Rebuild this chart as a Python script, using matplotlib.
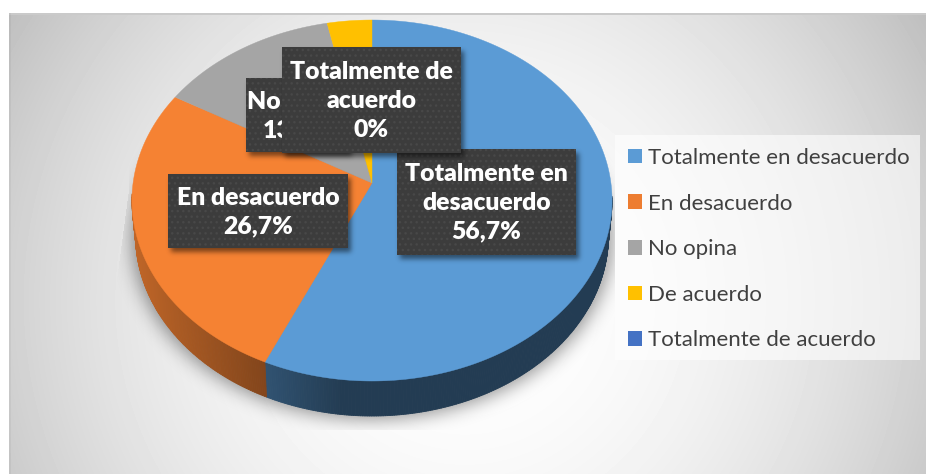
# -*- coding: utf-8 -*-
import numpy as np
import matplotlib
matplotlib.use('Agg')
import matplotlib.pyplot as plt
from matplotlib.patches import Patch, Rectangle
from matplotlib.path import Path
from matplotlib.collections import PolyCollection

categorias = ['Totalmente en desacuerdo', 'En desacuerdo', 'No opina',
              'De acuerdo', 'Totalmente de acuerdo']
porcentajes = [56.7, 26.7, 13.3, 3.3, 0.0]
colores = ['#5b9bd5', '#f58233', '#a5a5a5', '#ffc000', '#4472c4']
colores_leyenda = ['#5b9bd5', '#ed7d31', '#a5a5a5', '#ffc000', '#4472c4']

etiquetas = ['Totalmente en\ndesacuerdo\n56,7%', 'En desacuerdo\n26,7%',
             'No opina\n13,3%', 'Totalmente de\nacuerdo\n0%']
# x0, y0, x1, y1 en pixeles
cajas = [(397, 149, 576, 255), (168, 174, 348, 248),
         (246, 78, 349, 152), (282, 47, 461, 153)]

W, H = 926, 474
plt.rcParams['font.family'] = ['Lato', 'DejaVu Sans']

fig = plt.figure(figsize=(W / 100, H / 100), dpi=100)
ax = fig.add_axes([0, 0, 1, 1])
ax.set_xlim(0, W)
ax.set_ylim(H, 0)
ax.axis('off')

yy, xx = np.mgrid[0:H, 0:W]
xx = xx + 0.5
yy = yy + 0.5


def blur(a, s):
    n = int(3 * s)
    k = np.exp(-0.5 * (np.arange(-n, n + 1) / s) ** 2)
    k = k / k.sum()
    a = np.apply_along_axis(lambda r: np.convolve(r, k, mode='same'), 0, a)
    a = np.apply_along_axis(lambda r: np.convolve(r, k, mode='same'), 1, a)
    return a


def capa(alfa, z):
    img = np.zeros((H, W, 4))
    img[..., 3] = alfa
    ax.imshow(img, extent=(0, W, H, 0), zorder=z, aspect='auto',
              interpolation='nearest')


# fondo radial
d2 = ((xx - 465) ** 2 + (yy - 300) ** 2) / 500.0 ** 2
fondo = np.clip(255 - 55 * d2, 190, 255) / 255
fondo[:13, :] = 1
fondo[:, :9] = 1
fondo[13:15, 9:] = 0.79
fondo[13:, 9:11] = fondo[13:, 9:11] * 0.96
ax.imshow(fondo, cmap='gray', vmin=0, vmax=1, extent=(0, W, H, 0), zorder=0,
          aspect='auto', interpolation='nearest')

# torta en perspectiva
cx, cy = 372.0, 183.0
ax_r, ay_r = 238.9, 178.8
k_p = 0.097
grosor = 35.0
escala_base = 0.985


def rim(frac):
    ang = 2 * np.pi * frac
    u, v = np.sin(ang), np.cos(ang)
    return cx + ax_r * u / (1 + k_p * v), cy - ay_r * v / (1 + k_p * v)


# sombra de la torta, recortada como en el original
xr, yr = rim(np.linspace(0, 1, 361))
contorno = Path(np.column_stack([xr, yr + grosor + 3]))
puntos = np.column_stack([xx.ravel(), yy.ravel()])
masc = contorno.contains_points(puntos).reshape(H, W).astype(float)
sombra = blur(masc, 9) * 0.42
borde_izq = np.interp(yy, [190, 295], [129, 115])
sombra[(yy > 430) | (xx > 615) | (xx < borde_izq)] = 0
capa(sombra, 1)

fracs = np.array(porcentajes) / 100.0
ini = np.concatenate([[0], np.cumsum(fracs)[:-1]])
fin = np.cumsum(fracs)

for f0, f1, col in zip(ini, fin, colores):
    if f1 - f0 <= 0:
        continue
    t = np.linspace(f0, f1, max(int((f1 - f0) * 720), 4))
    x, y = rim(t)
    xb = cx + (x - cx) * escala_base
    base = np.array(matplotlib.colors.to_rgb(col))
    quads, tonos = [], []
    for i in range(len(t) - 1):
        # solo la cara de adelante se ve
        if y[i] < 195:
            continue
        quads.append([(x[i], y[i]), (x[i + 1], y[i + 1]),
                      (xb[i + 1], y[i + 1] + grosor), (xb[i], y[i] + grosor)])
        fac = np.interp((x[i] + x[i + 1]) / 2, [132, 266, 340, 612],
                        [0.78, 0.53, 0.39, 0.39])
        tonos.append(base * fac)
    if quads:
        ax.add_collection(PolyCollection(quads, facecolors=tonos, edgecolors=tonos,
                                         linewidths=0.6, zorder=2))

for f0, f1, col in zip(ini, fin, colores):
    if f1 - f0 <= 0:
        continue
    t = np.linspace(f0, f1, max(int((f1 - f0) * 720), 4))
    x, y = rim(t)
    ax.fill(np.r_[cx, x], np.r_[cy, y], color=col, lw=0.3, zorder=3)

# etiquetas
z = 5
for texto, (x0, y0, x1, y1) in zip(etiquetas, cajas):
    m = ((xx > x0 + 3) & (xx < x1 + 3) & (yy > y0 + 4) & (yy < y1 + 4)).astype(float)
    capa(blur(m, 2.5) * 0.5, z)
    ax.add_patch(Rectangle((x0, y0), x1 - x0, y1 - y0, facecolor='#3c3c3c',
                           edgecolor='none', zorder=z + 0.1))
    ax.add_patch(Rectangle((x0, y0), x1 - x0, y1 - y0, facecolor='none',
                           edgecolor='#484848', hatch='...', lw=0, zorder=z + 0.2))
    ax.text((x0 + x1) / 2, (y0 + y1) / 2 + 1, texto, color='white', fontsize=17.8,
            fontweight='heavy', ha='center', va='center', linespacing=1.37,
            zorder=z + 0.3)
    z += 1

# leyenda
ax.add_patch(Rectangle((615, 135), 305, 225, facecolor='white', alpha=0.6,
                       edgecolor='none', zorder=4))
manijas = [Patch(facecolor=c, edgecolor='none') for c in colores_leyenda]
ley = ax.legend(manijas, categorias, loc='upper left',
                bbox_to_anchor=(628, 148), bbox_transform=ax.transData,
                frameon=False, borderpad=0, borderaxespad=0, handlelength=0.63,
                handleheight=0.63, handletextpad=0.25, labelspacing=1.15,
                prop={'size': 16})
ley.set_zorder(4.5)
for t in ley.get_texts():
    t.set_color('#404040')

ax.set_xlim(0, W)
ax.set_ylim(H, 0)
plt.savefig('out.png', dpi=100)
